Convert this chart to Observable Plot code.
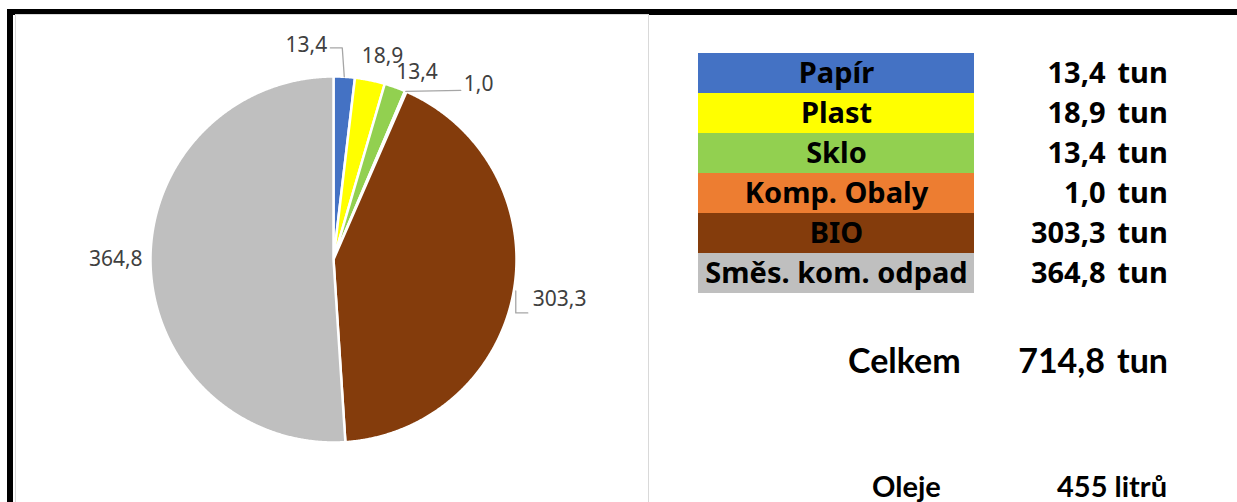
<!DOCTYPE html>
<html><head><meta charset="utf-8">
<script src="https://cdn.jsdelivr.net/npm/d3@7"></script>
<script src="https://cdn.jsdelivr.net/npm/@observablehq/plot@0.6"></script>
<style>
body{margin:0;background:#fff;}
#wrap{position:relative;width:1237px;height:502px;overflow:hidden;font-family:Lato, "Open Sans", sans-serif;}
.abs{position:absolute;}
</style></head><body><div id="wrap"></div>
<script>
// ---- data ----
const categories = ["Papír", "Plast", "Sklo", "Komp. Obaly", "BIO", "Směs. kom. odpad"];
const values = [13.4, 18.9, 13.4, 1.0, 303.3, 364.8];
const colors = ["#4472C4", "#FFFF00", "#92D050", "#ED7D31", "#843C0C", "#BFBFBF"];
const unitLabel = "tun";
const totalLabel = "Celkem";
const oilLabel = "Oleje";
const oilValue = 455;
const oilUnit = "litrů";

const fmt = d3.formatLocale({decimal: ",", thousands: "\u00a0", grouping: [3], currency: ["", ""]}).format(".1f");
const data = categories.map((name, i) => ({name, value: values[i], color: colors[i]}));
const total = d3.sum(values);

const wrap = document.getElementById("wrap");
function box(css) { const d = document.createElement("div"); d.className = "abs"; d.style.cssText = css; wrap.appendChild(d); return d; }
// frames
box("left:7px;top:9px;width:1230px;height:6px;background:#000;");
box("left:7px;top:9px;width:6px;height:493px;background:#000;");
box("left:15px;top:14px;width:632px;height:500px;border:1.5px solid #D9D9D9;background:#fff;");

// ---- pie ----
const R = 183, W = 633, H = 486, CX = 333 - 16, CY = 259 - 16;
const arcs = d3.pie().sort(null).value(d => d.value)(data);
const piePts = [];
arcs.forEach(a => {
  const n = Math.max(2, Math.ceil((a.endAngle - a.startAngle) / (Math.PI / 600)));
  piePts.push({name: a.data.name, color: a.data.color, x: 0, y: 0});
  for (let k = 0; k <= n; k++) {
    const t = a.startAngle + (a.endAngle - a.startAngle) * k / n;
    piePts.push({name: a.data.name, color: a.data.color, x: Math.sin(t), y: Math.cos(t)});
  }
  piePts.push({name: a.data.name, color: a.data.color, x: 0, y: 0});
});
// label layout (pixel offsets from the slice's outer mid point)
const labelLayout = [
  {off: [-17, -32], anchor: "end", leader: [[0, 0], [-2, -29], [-14, -29]]},
  {off: [12.5, -24], anchor: "middle", leader: null},
  {off: [22, -15], anchor: "middle", leader: null},
  {off: [58, -7], anchor: "start", leader: [[0, 0], [55, -1]]},
  {off: [19, 8.5], anchor: "start", leader: [[2, 0], [2, 22], [14, 22]]},
  {off: [-8, -5.7], anchor: "end", leader: null}
];
const labels = [], leaders = [];
arcs.forEach((a, i) => {
  const m = (a.startAngle + a.endAngle) / 2;
  const ex = Math.sin(m), ey = Math.cos(m);
  const L = labelLayout[i];
  labels.push({x: ex + L.off[0] / R, y: ey - L.off[1] / R, text: fmt(a.data.value), anchor: L.anchor});
  if (L.leader) L.leader.forEach(p => leaders.push({id: i, x: ex + p[0] / R, y: ey - p[1] / R}));
});
const pie = Plot.plot({
  width: W, height: H, margin: 0,
  x: {domain: [-1, 1], range: [CX - R, CX + R], axis: null},
  y: {domain: [-1, 1], range: [CY + R, CY - R], axis: null},
  color: {type: "identity"},
  style: {background: "transparent", fontFamily: "Lato, sans-serif"},
  marks: [
    Plot.line(piePts, {x: "x", y: "y", z: "name", fill: "color", stroke: "white", strokeWidth: 2.5, strokeLinejoin: "round"}),
    Plot.line(leaders, {x: "x", y: "y", z: "id", stroke: "#A6A6A6", strokeWidth: 1.3}),
    ...["start", "middle", "end"].map(an => Plot.text(labels.filter(d => d.anchor === an), {x: "x", y: "y", text: "text", textAnchor: an, fontSize: 21, fill: "#404040"}))
  ]
});
pie.style.cssText = "position:absolute;left:16px;top:16px;";
wrap.appendChild(pie);

// ---- table ----
const FS = 29;
const table = Plot.plot({
  width: 470, height: 244, margin: 0,
  x: {type: "band", domain: ["cat"], range: [0, 276], padding: 0, axis: null},
  y: {type: "band", domain: categories, range: [0, 244], padding: 0, axis: null},
  color: {type: "identity"},
  style: {background: "transparent", fontFamily: "Lato, sans-serif"},
  marks: [
    Plot.cell(data, {x: () => "cat", y: "name", fill: "color"}),
    Plot.text(data, {x: () => "cat", y: "name", text: "name", fontSize: FS, fontWeight: "bold", fill: "#000"}),
    Plot.text(data, {y: "name", frameAnchor: "left", textAnchor: "start", dx: 419, text: () => unitLabel, fontSize: FS, fontWeight: "bold", fill: "#000"}),
    Plot.text(data, {y: "name", frameAnchor: "left", textAnchor: "end", dx: 407, text: d => fmt(d.value), fontSize: FS, fontWeight: "bold", fill: "#000"})
  ]
});
table.style.cssText = "position:absolute;left:698px;top:51px;";
wrap.appendChild(table);

// ---- totals ----
const svg = d3.select(wrap).append("svg").attr("width", 1237).attr("height", 502)
  .style("position", "absolute").style("left", "0").style("top", "0")
  .attr("font-family", "Lato, sans-serif").attr("font-weight", "bold").attr("fill", "#000");
svg.append("text").attr("x", 848).attr("y", 373).attr("font-size", 34).text(totalLabel);
svg.append("text").attr("x", 1105).attr("y", 373).attr("font-size", 34).attr("text-anchor", "end").text(fmt(total));
svg.append("text").attr("x", 1117).attr("y", 373).attr("font-size", 34).text(unitLabel);
svg.append("text").attr("x", 872).attr("y", 497).attr("font-size", FS).text(oilLabel);
svg.append("text").attr("x", 1057).attr("y", 497).attr("font-size", FS).text(oilValue + " " + oilUnit);
</script></body></html>
